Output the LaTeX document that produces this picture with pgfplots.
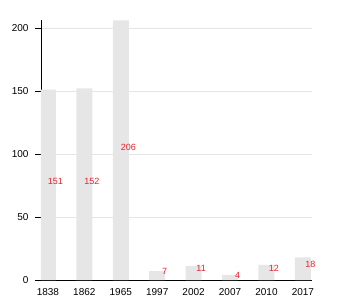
\documentclass[border=0pt]{standalone}
\usepackage{pgfplots}
\pgfplotsset{compat=1.18}
\usepackage{pgfplotstable}
\usepackage{fontspec}
\setmainfont{Liberation Sans}
\definecolor{barg}{HTML}{E6E6E6}
\definecolor{lab}{HTML}{E8202A}
\pgfplotstableread{
x y ly
0 151 78
1 152 78.5
2 206 105.5
3 7 7
4 11 9
5 4 4
6 12 9
7 18 12
}\data
\begin{document}
\begin{tikzpicture}
\begin{axis}[
  at={(0,0)}, anchor=south west,
  scale only axis, width=271pt, height=260pt,
  xmin=-0.19, xmax=7.25, ymin=0, ymax=206.3,
  axis x line*=bottom, axis y line*=left,
  axis line style={black, line width=0.8pt},
  xtick={0,...,7},
  xticklabels={1838,1862,1965,1997,2002,2007,2010,2017},
  x tick style={draw=none},
  ytick={0,50,100,150,200},
  tick align=outside, major tick length=6pt,
  y tick style={black, line width=0.6pt},
  ymajorgrids, grid style={gray!20, line width=0.5pt},
  tick label style={font=\fontsize{10}{11}\selectfont},
  /pgf/number format/assume math mode=true,
  xticklabel style={yshift=1pt},
  yticklabel style={xshift=-3pt},
]
\addplot[ybar, bar width=16pt, fill=barg, draw=none] table[x=x,y=y]{\data};
\addplot[only marks, mark=none, nodes near coords,
  point meta=explicit,
  every node near coord/.style={anchor=center, xshift=7.5pt, text=lab, font=\fontsize{9}{10}\selectfont}]
  table[x=x,y=ly,meta=y]{\data};
\end{axis}
\path[use as bounding box] (-41pt,-20pt) rectangle (309pt,280pt);
\end{tikzpicture}
\end{document}
